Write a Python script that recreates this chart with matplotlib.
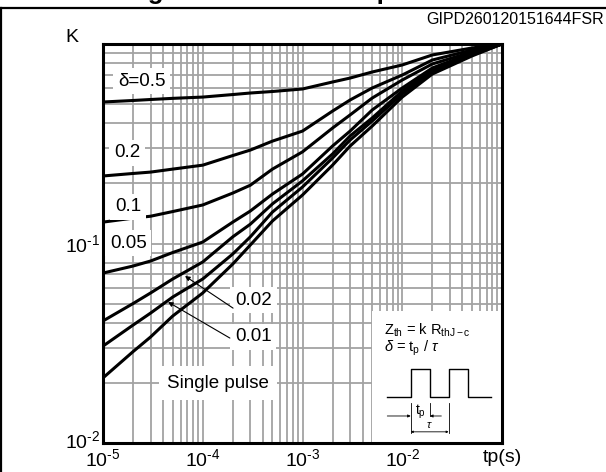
import matplotlib
matplotlib.use("Agg")
import matplotlib.pyplot as plt
import matplotlib.transforms as mtransforms
from matplotlib.lines import Line2D
from matplotlib.patches import Rectangle
from matplotlib.ticker import LogLocator, NullFormatter

plt.rcParams['font.family'] = 'Liberation Sans'
plt.rcParams['mathtext.fontset'] = 'custom'
plt.rcParams['mathtext.rm'] = 'Liberation Sans'
plt.rcParams['mathtext.it'] = 'Liberation Sans:italic'
plt.rcParams['mathtext.bf'] = 'Liberation Sans:bold'

# ---- data ----
tp = [1e-5, 2e-5, 3e-5, 5e-5, 1e-4, 2e-4, 3e-4, 5e-4,
      1e-3, 2e-3, 3e-3, 5e-3, 1e-2, 2e-2, 5e-2, 1e-1]
k_d050 = [0.512, 0.521, 0.527, 0.534, 0.542, 0.558, 0.568, 0.578,
          0.595, 0.645, 0.675, 0.724, 0.785, 0.881, 0.955, 1.0]
k_d020 = [0.218, 0.2244, 0.228, 0.236, 0.247, 0.276, 0.294, 0.326,
          0.366, 0.461, 0.524, 0.602, 0.699, 0.831, 0.933, 1.0]
k_d010 = [0.128, 0.134, 0.137, 0.1446, 0.156, 0.179, 0.196, 0.236,
          0.288, 0.379, 0.441, 0.536, 0.660, 0.794, 0.912, 1.0]
k_d005 = [0.0711, 0.0771, 0.0817, 0.0901, 0.1017, 0.128, 0.1455, 0.177,
          0.223, 0.308, 0.366, 0.467, 0.602, 0.758, 0.901, 1.0]
k_d002 = [0.0409, 0.050, 0.0565, 0.0664, 0.0808, 0.108, 0.125, 0.158,
          0.206, 0.281, 0.346, 0.426, 0.581, 0.741, 0.891, 1.0]
k_d001 = [0.0306, 0.0390, 0.0448, 0.0539, 0.0664, 0.0886, 0.108, 0.1438,
          0.192, 0.268, 0.330, 0.411, 0.562, 0.724, 0.881, 1.0]
k_single = [0.0212, 0.0287, 0.0340, 0.0433, 0.0565, 0.0789, 0.0983, 0.1297,
            0.175, 0.247, 0.308, 0.388, 0.542, 0.707, 0.871, 1.0]

curves = [k_d050, k_d020, k_d010, k_d005, k_d002, k_d001, k_single]

xticks = [1e-5, 1e-4, 1e-3, 1e-2, 1e-1]
xtick_labels = [r'10$^{\text{-5}}$', r'10$^{\text{-4}}$',
                r'10$^{\text{-3}}$', r'10$^{\text{-2}}$', 'tp(s)']
yticks = [1e-2, 1e-1]
ytick_labels = [r'10$^{\text{-2}}$', r'10$^{\text{-1}}$']

# ---- figure ----
fig = plt.figure(figsize=(6.06, 4.72), dpi=100)
ax = fig.add_axes([103 / 606, 1 - 443 / 472, 399 / 606, 399 / 472])

for k in curves:
    ax.plot(tp, k, color='k', lw=2.2)

ax.set_xscale('log')
ax.set_yscale('log')
ax.set_xlim(1e-5, 1e-1)
ax.set_ylim(1e-2, 1)

ax.xaxis.set_minor_locator(LogLocator(base=10, subs=range(2, 10)))
ax.yaxis.set_minor_locator(LogLocator(base=10, subs=range(2, 10)))
ax.xaxis.set_minor_formatter(NullFormatter())
ax.yaxis.set_minor_formatter(NullFormatter())
ax.set_xticks(xticks)
ax.set_xticklabels(xtick_labels)
ax.set_yticks(yticks)
ax.set_yticklabels(ytick_labels)
ax.tick_params(which='both', length=0, labelsize=14)
ax.tick_params(axis='x', pad=4)
ax.tick_params(axis='y', pad=2)
# lift the lowest y label a little, as in the original
lbl = ax.get_yticklabels()[0]
lbl.set_transform(lbl.get_transform() + mtransforms.ScaledTranslation(0, 4 / 100, fig.dpi_scale_trans))

ax.set_axisbelow(True)
ax.grid(which='both', color='#a3a3a3', lw=1.3)
for s in ax.spines.values():
    s.set_linewidth(2.2)

# labels on curves
box = dict(boxstyle='square,pad=0.25', fc='white', ec='none')
lab_kw = dict(transform=ax.transAxes, fontsize=13.5, va='center', ha='left', bbox=box)
ax.text(0.0376, 0.907, 'δ=0.5', **lab_kw)
ax.text(0.0276, 0.727, '0.2', **lab_kw)
ax.text(0.030, 0.5915, '0.1', **lab_kw)
ax.text(0.0175, 0.501, '0.05', **lab_kw)
ax.text(0.331, 0.358, '0.02', **lab_kw)
ax.text(0.331, 0.266, '0.01', **lab_kw)
ax.text(0.1604, 0.150, 'Single pulse', transform=ax.transAxes, fontsize=13.5,
        va='center', ha='left',
        bbox=dict(boxstyle='square,pad=0.45', fc='white', ec='none'))

arrow = dict(arrowstyle='-|>', color='k', lw=0.8, mutation_scale=7, shrinkA=0, shrinkB=0)
ax.annotate('', xy=(0.2055, 0.4185), xytext=(0.326, 0.338),
            xycoords='axes fraction', textcoords='axes fraction', arrowprops=arrow)
ax.annotate('', xy=(0.163, 0.3534), xytext=(0.318, 0.263),
            xycoords='axes fraction', textcoords='axes fraction', arrowprops=arrow)

# inset with formula and pulse sketch
ax.add_patch(Rectangle((0.674, 0.0), 0.326, 0.331, transform=ax.transAxes,
                       fc='white', ec='none', zorder=1))
ax.text(0.705, 0.283, r'Z$_{\mathregular{th}}$ = k R$_{\mathregular{thJ-c}}$',
        transform=ax.transAxes, fontsize=10.5, va='center', ha='left')
ax.text(0.705, 0.236, r'$\delta$ = t$_{\mathregular{p}}$ / $\tau$',
        transform=ax.transAxes, fontsize=10.5, va='center', ha='left')

lo, hi = 0.116, 0.1855
wx = [0.7125, 0.7712, 0.7712, 0.8195, 0.8195, 0.8662, 0.8662, 0.9138, 0.9138, 0.9714]
wy = [lo, lo, hi, hi, lo, lo, hi, hi, lo, lo]
ax.plot(wx, wy, color='k', lw=1.0, transform=ax.transAxes, clip_on=False)
for xv, y0, y1 in [(0.7712, 0.100, 0.025), (0.8195, 0.100, 0.0677), (0.8662, 0.100, 0.025)]:
    ax.plot([xv, xv], [y0, y1], color='k', lw=0.6, transform=ax.transAxes)
small = dict(arrowstyle='-|>', color='k', lw=0.6, mutation_scale=4, shrinkA=0, shrinkB=0)
ax.annotate('', xy=(0.7712, 0.0677), xytext=(0.7125, 0.0677),
            xycoords='axes fraction', arrowprops=small)
ax.annotate('', xy=(0.8195, 0.0677), xytext=(0.848, 0.0677),
            xycoords='axes fraction', arrowprops=small)
ax.annotate('', xy=(0.7712, 0.028), xytext=(0.8662, 0.028),
            xycoords='axes fraction', arrowprops=dict(arrowstyle='<|-|>', color='k', lw=0.6,
                                                      mutation_scale=3, shrinkA=0, shrinkB=0))
ax.text(0.795, 0.078, r't$_{\mathregular{p}}$', transform=ax.transAxes, fontsize=10,
        ha='center', va='center')
ax.text(0.819, 0.045, r'$\tau$', transform=ax.transAxes, fontsize=8,
        ha='center', va='center')

# outer frame, id and axis name
fig.add_artist(Line2D([0, 1], [1 - 7.5 / 472] * 2, color='k', lw=1.6))
fig.add_artist(Line2D([0.8 / 606] * 2, [0, 1 - 7.5 / 472], color='k', lw=1.6))
# title of the page, only the tails of its letters fall inside the picture
fig.text(0.5, 1 + 1.5 / 472, 'Figure 7. Thermal impedance', fontsize=18.5,
         weight='bold', ha='center', va='baseline')
fig.text(604 / 606, 1 - 19 / 472, 'GIPD260120151644FSR', fontsize=11.5,
         ha='right', va='center')
fig.text(72 / 606, 1 - 38 / 472, 'K', fontsize=14, ha='center', va='center')

fig.savefig('out.png', dpi=100)
